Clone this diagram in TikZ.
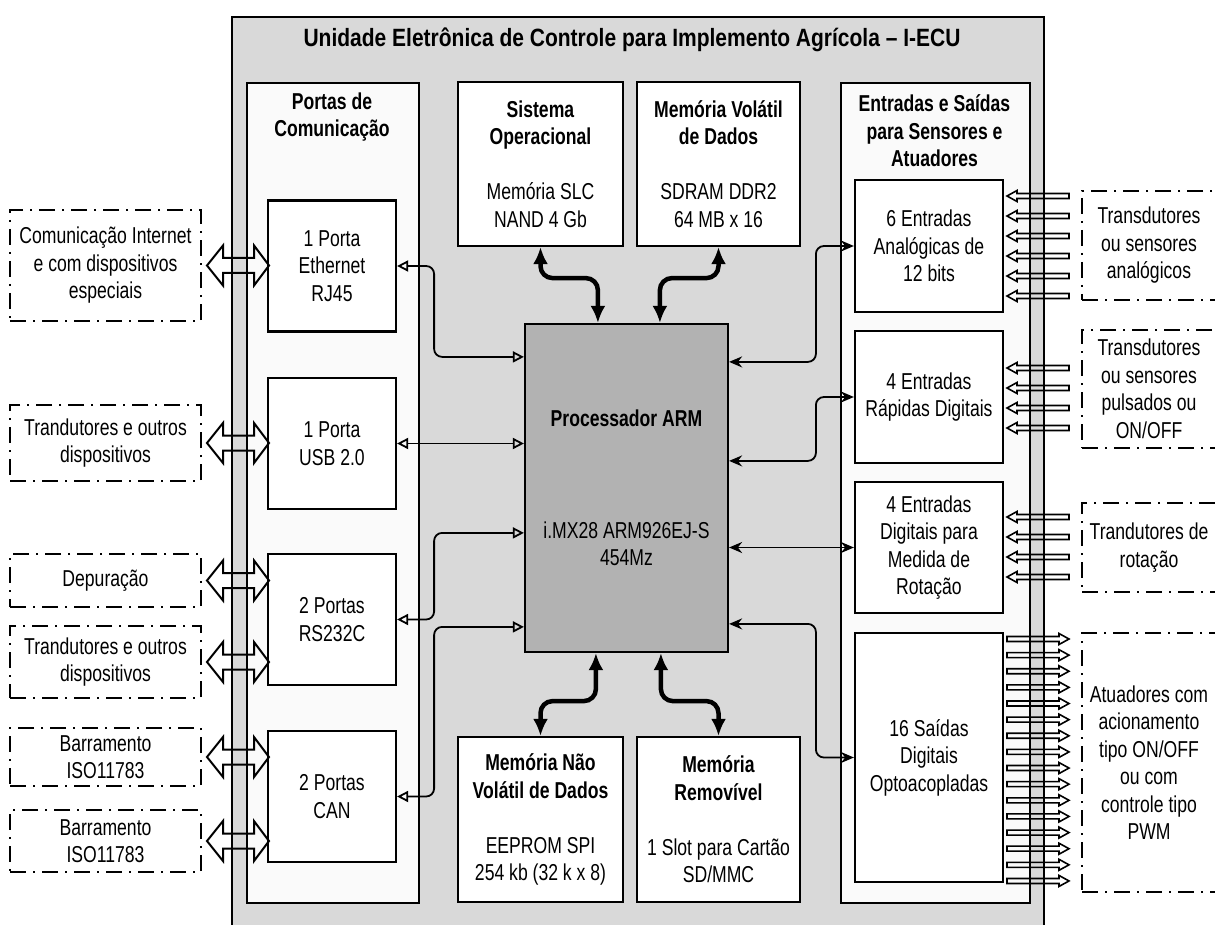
\documentclass[tikz,border=0pt]{standalone}
\usepackage{fontspec}
\setmainfont{Liberation Sans}[FakeStretch=0.765]
\newfontfamily\titlefont{Liberation Sans}[FakeStretch=0.84]
\usetikzlibrary{arrows.meta,calc}

\tikzset{
  blk/.style={draw, fill=white, line width=2.2pt, align=center, inner sep=0pt},
  panel/.style={draw, fill=white!98!black, line width=2.2pt, inner sep=0pt},
  hdr/.style={align=center, font=\fontsize{23}{27.5}\selectfont\bfseries},
  extbox/.style={draw, line width=2pt, dash pattern=on 16pt off 7pt on 2pt off 7pt, align=center, inner sep=0pt},
  lconn/.style={line width=1.8pt, rounded corners=8pt, {Triangle[open,length=11pt,width=11pt]}-{Triangle[open,length=11pt,width=11pt]}},
  rconn/.style={line width=1.8pt, rounded corners=8pt, {Stealth[length=13pt,width=11pt]}-{Stealth[length=13pt,width=11pt]}},
  memconn/.style={line width=4.5pt, rounded corners=12pt, {Latex[length=17pt,width=15pt]}-{Latex[length=17pt,width=15pt]}},
  busarrow/.style={line width=2pt, line join=miter},
  sigarrow/.style={line width=1.6pt},
}

\begin{document}
\begin{tikzpicture}[x=1pt, y=-1pt, font=\fontsize{23}{27.5}\selectfont]
\useasboundingbox (0,0) rectangle (1215,925);

% caixa externa da I-ECU
\node[draw, fill=black!15, line width=2.2pt, minimum width=812, minimum height=930, anchor=north west, inner sep=0pt] (ecu) at (231,16) {};
\node[font=\titlefont\fontsize{25}{30}\selectfont\bfseries] (titulo) at (632,40) {Unidade Eletrônica de Controle para Implemento Agrícola – I-ECU};

% paineis laterais
\node[panel, minimum width=172, minimum height=820, anchor=north west] (portas) at (246,82) {};
\node[panel, minimum width=189, minimum height=820, anchor=north west] (es) at (840,82) {};
\node[hdr] (portastit) at (332,117) {Portas de\\Comunicação};
\node[hdr] (estit) at (934.5,131) {Entradas e Saídas\\para Sensores e\\Atuadores};

% memorias e processador
\node[blk, minimum width=165, minimum height=164] (so) at (540.5,164) {\textbf{Sistema}\\\textbf{Operacional}\\[27.5pt]Memória SLC\\NAND 4 Gb};
\node[blk, minimum width=163, minimum height=164] (mv) at (718.5,164) {\textbf{Memória Volátil}\\\textbf{de Dados}\\[27.5pt]SDRAM DDR2\\64 MB x 16};
\node[blk, minimum width=165, minimum height=165] (nv) at (540.5,819.5) {\textbf{Memória Não}\\\textbf{Volátil de Dados}\\[27.5pt]EEPROM SPI\\254 kb (32 k x 8)};
\node[blk, minimum width=163, minimum height=165] (mr) at (718.5,819.5) {\textbf{Memória}\\\textbf{Removível}\\[27.5pt]1 Slot para Cartão\\SD/MMC};
\node[blk, fill=black!30, minimum width=203, minimum height=328] (proc) at (626.5,488) {\textbf{Processador ARM}\\[84pt]i.MX28 ARM926EJ-S\\454Mz};

% portas de comunicacao
\node[blk, minimum width=128, minimum height=131] (eth) at (332,266) {1 Porta\\Ethernet\\RJ45};
\node[blk, minimum width=128, minimum height=131] (usb) at (332,443.5) {1 Porta\\USB 2.0};
\node[blk, minimum width=128, minimum height=131] (rs) at (332,619.5) {2 Portas\\RS232C};
\node[blk, minimum width=128, minimum height=131] (can) at (332,796.5) {2 Portas\\CAN};

% entradas e saidas
\node[blk, minimum width=148, minimum height=132] (an) at (929,246) {6 Entradas\\Analógicas de\\12 bits};
\node[blk, minimum width=148, minimum height=132] (rap) at (929,397) {4 Entradas\\Rápidas Digitais};
\node[blk, minimum width=148, minimum height=131] (rot) at (929,547.5) {4 Entradas\\Digitais para\\Medida de\\Rotação};
\node[blk, minimum width=148, minimum height=249] (sai) at (929,757.5) {16 Saídas\\Digitais\\Optoacopladas};

% dispositivos externos
\node[extbox, minimum width=191, minimum height=111] (ext1) at (105.5,265.5) {Comunicação Internet\\e com dispositivos\\especiais};
\node[extbox, minimum width=191, minimum height=76] (ext2) at (105.5,443) {Trandutores e outros\\dispositivos};
\node[extbox, minimum width=191, minimum height=53] (ext3) at (105.5,580.5) {Depuração};
\node[extbox, minimum width=191, minimum height=72] (ext4) at (105.5,662) {Trandutores e outros\\dispositivos};
\node[extbox, minimum width=191, minimum height=58] (ext5) at (105.5,757) {Barramento\\ISO11783};
\node[extbox, minimum width=191, minimum height=62] (ext6) at (105.5,841) {Barramento\\ISO11783};
\node[extbox, minimum width=134, minimum height=109] (ext7) at (1149,245.5) {Transdutores\\ou sensores\\analógicos};
\node[extbox, minimum width=134, minimum height=118] (ext8) at (1149,389) {Transdutores\\ou sensores\\pulsados ou\\ON/OFF};
\node[extbox, minimum width=134, minimum height=89] (ext9) at (1149,547.5) {Trandutores de\\rotação};
\node[extbox, minimum width=134, minimum height=259] (ext10) at (1149,762.5) {Atuadores com\\acionamento\\tipo ON/OFF\\ou com\\controle tipo\\PWM};

% ligacoes do processador
\draw[lconn] (eth.east) -- ++(37,0) |- ($(proc.north west)+(0,34)$);
\draw[lconn] (usb.east) -- (usb.east -| proc.west);
\draw[lconn] (rs.east) -- ++(37,0) |- ($(proc.north west)+(0,210)$);
\draw[lconn] (can.east) -- ++(37,0) |- ($(proc.north west)+(0,304)$);
\draw[rconn] (an.west) -- ++(-38,0) |- ($(proc.north east)+(0,39)$);
\draw[rconn] (rap.west) -- ++(-38,0) |- ($(proc.north east)+(0,138)$);
\draw[rconn] (rot.west) -- (rot.west -| proc.east);
\draw[rconn] (sai.west) -- ++(-38,0) |- ($(proc.north east)+(0,301)$);
\draw[memconn] (so.south) -- ++(0,31) -| ($(proc.north west)+(74,0)$);
\draw[memconn] (mv.south) -- ++(0,31) -| ($(proc.north west)+(136,0)$);
\draw[memconn] ($(proc.south west)+(72,0)$) -- ++(0,48) -| (nv.north);
\draw[memconn] ($(proc.south west)+(137,0)$) -- ++(0,48) -| (mr.north);

% barramentos externos
\foreach \e in {ext1,ext2,ext3,ext4,ext5,ext6}
  \draw[busarrow] ($(\e.east)+(5,0)$) -- ++(16,-20) -- ++(0,12.5) -- ++(31,0) -- ++(0,-12.5)
    -- ++(15,20) -- ++(-15,20) -- ++(0,-12.5) -- ++(-31,0) -- ++(0,12.5) -- cycle;

% sinais de entrada
\foreach \y in {196,216,...,296,368,388,408,428,517,537,557,577}
  \draw[sigarrow] (1007,\y) -- ++(10,-5.5) -- ++(0,3) -- ++(52,0) -- ++(0,5) -- ++(-52,0) -- ++(0,3) -- cycle;
% sinais de saida
\foreach \i in {0,...,15}
  \draw[sigarrow] (1069,639+16.13*\i) -- ++(-10,-5.5) -- ++(0,3) -- ++(-52,0) -- ++(0,5) -- ++(52,0) -- ++(0,3) -- cycle;
\end{tikzpicture}
\end{document}
